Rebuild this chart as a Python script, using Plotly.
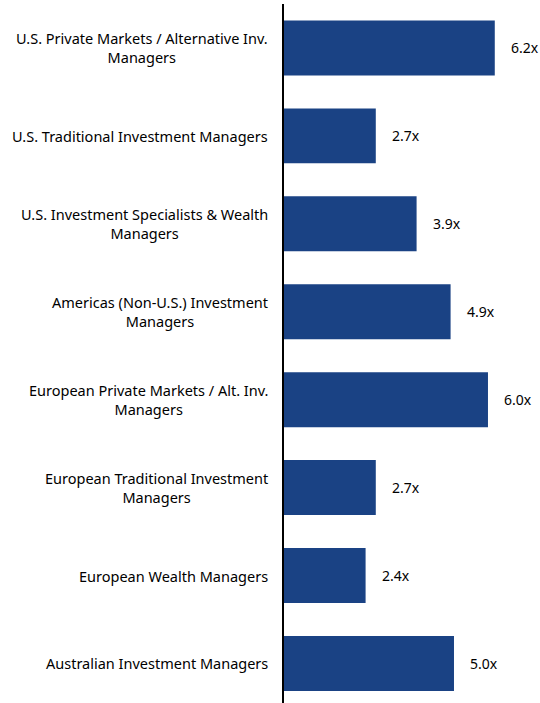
import plotly.graph_objects as go

categories = [
    "U.S. Private Markets / Alternative Inv.<br>Managers",
    "U.S. Traditional Investment Managers",
    "U.S. Investment Specialists & Wealth<br>Managers",
    "Americas (Non-U.S.) Investment<br>Managers",
    "European Private Markets / Alt. Inv.<br>Managers",
    "European Traditional Investment<br>Managers",
    "European Wealth Managers",
    "Australian Investment Managers",
]
values = [6.2, 2.7, 3.9, 4.9, 6.0, 2.7, 2.4, 5.0]
value_labels = ["6.2x", "2.7x", "3.9x", "4.9x", "6.0x", "2.7x", "2.4x", "5.0x"]

FONT = "Noto Sans"
BAR_COLOR = "#1a4284"

fig = go.Figure(go.Bar(
    x=values, y=categories, orientation="h",
    marker=dict(color=BAR_COLOR, line=dict(width=0)),
    hoverinfo="skip",
))

annotations = []
for c, v, t in zip(categories, values, value_labels):
    annotations.append(dict(
        x=v, y=c, xref="x", yref="y", text=t, showarrow=False,
        xanchor="left", xshift=14, font=dict(family=FONT, size=14, color="#000000"),
    ))
    annotations.append(dict(
        x=0, y=c, xref="paper", yref="y", text=c, showarrow=False,
        xanchor="right", xshift=-14, align="center",
        font=dict(family=FONT, size=14.5, color="#000000"),
    ))

fig.update_layout(
    width=540, height=703,
    margin=dict(l=284, r=0, t=4, b=0),
    plot_bgcolor="white", paper_bgcolor="white",
    bargap=0.375,
    showlegend=False,
    annotations=annotations,
    xaxis=dict(range=[0, 7.53], visible=False, fixedrange=True),
    yaxis=dict(
        range=[7.45, -0.5], showticklabels=False, ticks="",
        showline=True, linecolor="#000000", linewidth=2,
        showgrid=False, zeroline=False, fixedrange=True,
    ),
)

fig.write_html(
    "out.html",
    config={"displayModeBar": False},
    post_script="document.body.style.margin='0';document.body.style.overflow='hidden';",
)
